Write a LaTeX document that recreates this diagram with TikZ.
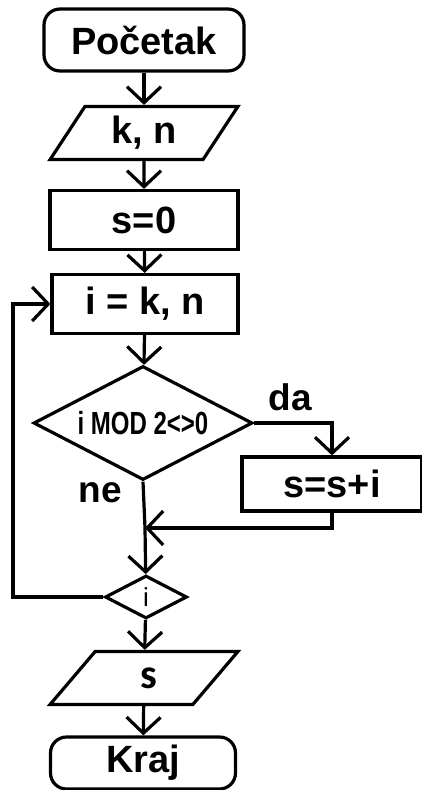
\documentclass[tikz,border=0pt]{standalone}
\usepackage{fontspec}
\setmainfont{Liberation Sans}
\newfontfamily\boldish{Carlito}
\usetikzlibrary{shapes.geometric,arrows.meta,positioning}

\begin{document}
\begin{tikzpicture}[x=1pt, y=1pt,
      line width=3.2pt,
      box/.style={draw, inner sep=0pt, font=\fontsize{38}{40}\selectfont\bfseries},
      term/.style={box, rectangle, rounded corners=16pt, minimum width=200pt, minimum height=62pt},
      io/.style={box, trapezium, trapezium left angle=60, trapezium right angle=120,
        trapezium stretches=true, minimum width=188pt, minimum height=53pt},
      proc/.style={box, rectangle, minimum width=188pt, minimum height=59pt},
      decide/.style={box, diamond, aspect=1.9},
      link/.style={-{Straight Barb[length=16pt,width=34pt]}},
      tag/.style={font=\fontsize{37}{39}\selectfont\bfseries}
    ]
    \useasboundingbox (0,0) rectangle (421,-790);
    \node[term] (start) at (144,-40) {Početak};
    \node[io] (read) at (144,-133) {k, n};
    \node[proc] (init) at (144,-220) {s=0};
    \node[proc, minimum width=186pt] (loop) at (145,-304) {i = k, n};
    \node[decide, minimum width=219pt, minimum height=114pt] (test) at (143,-423)
      {\scalebox{0.75}[1]{\fontsize{32}{34}\selectfont i MOD 2<>0}};
    \node[proc, minimum width=180pt, minimum height=54pt] (add) at (332,-484) {s=s+i};
    \node[decide, minimum width=82pt, minimum height=43pt, font=\fontsize{26}{28}\selectfont] (next) at (146,-597) {i};
    \node[io, minimum width=188pt] (write) at (144,-678) {\boldish\bfseries\fontsize{42}{44}\selectfont\ s};
    \node[term, minimum width=185pt, minimum height=52pt] (stop) at (143,-763) {Kraj};
    \node[tag] (yes) at (290,-397) {da};
    \node[tag] (no) at (100,-493) {ne};
    \coordinate (join) at (145,-528);
    \coordinate (back) at (13,-597);
    \draw[link] (start) -- (read);
    \draw[link] (read) -- (init);
    \draw[link] (init) -- (loop);
    \draw[link] (loop) -- (test);
    \draw[link] (test.east) -| (add.north);
    \draw (test.south) -- (join);
    \draw[link] (add.south) |- (join);
    \draw[link] (join) -- (next);
    \draw[link] (next.west) -- (back) |- (loop.west);
    \draw[link] (next) -- (write);
    \draw[link] (write) -- (stop);
  \end{tikzpicture}
\end{document}
